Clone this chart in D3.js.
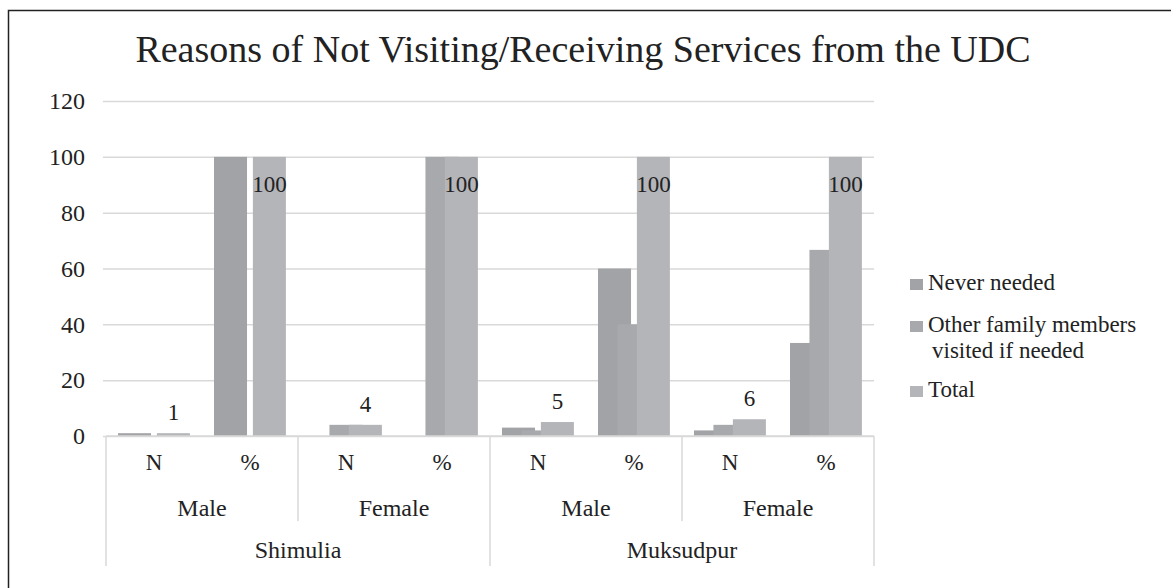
<!DOCTYPE html>
<html>
<head>
<meta charset="utf-8">
<script src="https://cdn.jsdelivr.net/npm/d3@7"></script>
<style>
  body { margin: 0; background: #fff; }
</style>
</head>
<body>
<script>
// data
var places = ["Shimulia", "Muksudpur"];
var genders = ["Male", "Female"];
var measures = ["N", "%"];
var seriesNames = ["Never needed", "Other family members visited if needed", "Total"];
var neverNeeded = [1, 100, 0, 0, 3, 60, 2, 33.33];
var otherFamily = [0, 0, 4, 100, 2, 40, 4, 66.67];
var total = [1, 100, 4, 100, 5, 100, 6, 100];
var yTicks = [0, 20, 40, 60, 80, 100, 120];

var w = 1171, h = 588;
var plotLeft = 106, plotRight = 874, plotTop = 101, plotBottom = 436;
var colors = ["#a2a3a7", "#a8a9ad", "#b4b5b9"];
var serif = "'Liberation Serif', 'Times New Roman', Tinos, 'DejaVu Serif', serif";

// one slot per place/gender/measure
var slots = [];
places.forEach(function (p) {
    genders.forEach(function (g) {
        measures.forEach(function (m) {
            slots.push(p + "|" + g + "|" + m);
        });
    });
});
var values = [neverNeeded, otherFamily, total];

var svg = d3.select("body").append("svg")
    .attr("width", w)
    .attr("height", h)
    .attr("font-family", serif);

// outer frame
svg.append("rect")
    .attr("x", 8.5).attr("y", 10.5)
    .attr("width", 1200).attr("height", 600)
    .attr("fill", "none")
    .attr("stroke", "#222")
    .attr("stroke-width", 1.5);

svg.append("text")
    .attr("x", 583).attr("y", 62)
    .attr("text-anchor", "middle")
    .attr("font-size", "38px")
    .attr("fill", "#222")
    .text("Reasons of Not Visiting/Receiving Services from the UDC");

var xScale = d3.scaleBand().domain(slots).range([plotLeft, plotRight]);
var yScale = d3.scaleLinear().domain([0, 120]).range([plotBottom, plotTop]);
// overlapping bars inside each slot
var inner = d3.scalePoint().domain(seriesNames)
    .range([xScale.bandwidth() * 0.125, xScale.bandwidth() * 0.53]);
var barW = xScale.bandwidth() * 0.344;

//Y axis with gridlines
var yAxis = d3.axisLeft(yScale)
    .tickValues(yTicks)
    .tickSize(-(plotRight - plotLeft + 3))
    .tickPadding(18);
var gy = svg.append("g")
    .attr("transform", "translate(" + (plotLeft - 3) + ",0)")
    .call(yAxis)
    .attr("font-family", serif);
gy.select(".domain").remove();
gy.selectAll("line").attr("stroke", "#d9d9d9").attr("stroke-width", 1.5);
gy.selectAll("text")
    .attr("font-size", "24px")
    .attr("fill", "#222");

// bars, series drawn in order so later ones sit on top
seriesNames.forEach(function (s, i) {
    svg.append("g").selectAll("rect")
        .data(values[i])
        .enter()
        .append("rect")
        .attr("x", function (d, j) { return xScale(slots[j]) + inner(s); })
        .attr("y", function (d) { return yScale(d); })
        .attr("width", barW)
        .attr("height", function (d) { return yScale(0) - yScale(d); })
        .attr("fill", colors[i]);
});

// data labels on the Total series
svg.append("g").selectAll("text")
    .data(total)
    .enter()
    .append("text")
    .attr("x", function (d, j) { return xScale(slots[j]) + inner("Total") + barW / 2; })
    .attr("y", function (d) { return d >= 100 ? yScale(d) + 35 : yScale(d) - 13; })
    .attr("text-anchor", "middle")
    .attr("font-size", "23px")
    .attr("fill", "#222")
    .text(function (d) { return d; });

// category axis
svg.append("line")
    .attr("x1", plotLeft).attr("x2", plotRight)
    .attr("y1", plotBottom).attr("y2", plotBottom)
    .attr("stroke", "#d9d9d9").attr("stroke-width", 1.5);

var xAxis = d3.axisBottom(xScale)
    .tickSize(0)
    .tickPadding(18)
    .tickFormat(function (d) { return d.split("|")[2]; });
var gx = svg.append("g")
    .attr("transform", "translate(0," + plotBottom + ")")
    .call(xAxis)
    .attr("font-family", serif);
gx.select(".domain").remove();
gx.selectAll("text")
    .attr("font-size", "23px")
    .attr("fill", "#222");

var groupW = xScale.bandwidth() * measures.length;
var placeW = groupW * genders.length;

// gender labels and separators
places.forEach(function (p, pi) {
    genders.forEach(function (g, gi) {
        var x0 = xScale(p + "|" + g + "|N");
        svg.append("text")
            .attr("x", x0 + groupW / 2)
            .attr("y", 516)
            .attr("text-anchor", "middle")
            .attr("font-size", "24px")
            .attr("fill", "#222")
            .text(g);
        if (gi > 0) {
            svg.append("line")
                .attr("x1", x0).attr("x2", x0)
                .attr("y1", plotBottom).attr("y2", 521)
                .attr("stroke", "#d9d9d9").attr("stroke-width", 1.5);
        }
    });
    var px = xScale(p + "|Male|N");
    svg.append("text")
        .attr("x", px + placeW / 2)
        .attr("y", 558)
        .attr("text-anchor", "middle")
        .attr("font-size", "24px")
        .attr("fill", "#222")
        .text(p);
    svg.append("line")
        .attr("x1", px).attr("x2", px)
        .attr("y1", plotBottom).attr("y2", 566)
        .attr("stroke", "#d9d9d9").attr("stroke-width", 1.5);
});
svg.append("line")
    .attr("x1", plotRight).attr("x2", plotRight)
    .attr("y1", plotBottom).attr("y2", 566)
    .attr("stroke", "#d9d9d9").attr("stroke-width", 1.5);

// legend
var legendRows = [
    { lines: ["Never needed"], y: 290 },
    { lines: ["Other family members", "visited if needed"], y: 332 },
    { lines: ["Total"], y: 397 }
];
legendRows.forEach(function (r, i) {
    svg.append("rect")
        .attr("x", 910).attr("y", r.y - 11)
        .attr("width", 13).attr("height", 11)
        .attr("fill", colors[i]);
    var t = svg.append("text")
        .attr("x", 928).attr("y", r.y)
        .attr("font-size", "23px")
        .attr("fill", "#222");
    r.lines.forEach(function (l, k) {
        t.append("tspan")
            .attr("x", k === 0 ? 928 : 932)
            .attr("dy", k === 0 ? 0 : 26)
            .text(l);
    });
});
</script>
</body>
</html>
